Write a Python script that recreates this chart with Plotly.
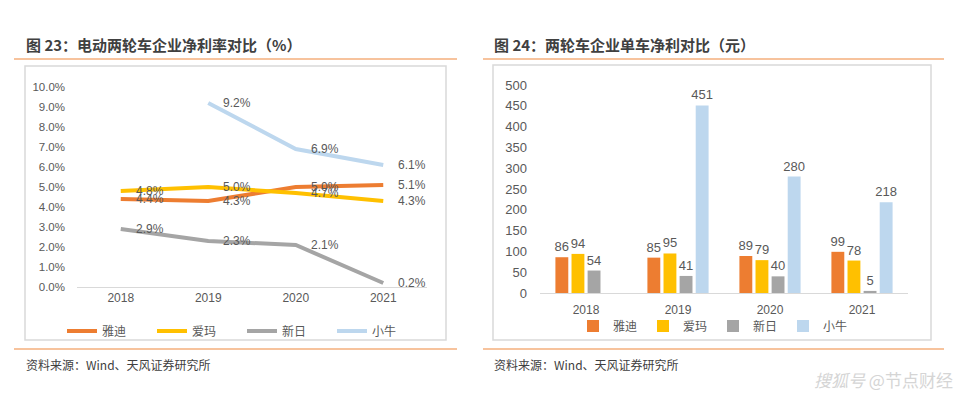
import plotly.graph_objects as go

W, H = 964, 398

years = ["2018", "2019", "2020", "2021"]
companies = ["雅迪", "爱玛", "新日", "小牛"]
colors = ["#ED7D31", "#FFC000", "#A5A5A5", "#BDD7EE"]

# 图23 净利率 (%)
margin_yadi = [4.4, 4.3, 5.0, 5.1]
margin_aima = [4.8, 5.0, 4.7, 4.3]
margin_xinri = [2.9, 2.3, 2.1, 0.2]
margin_niu = [None, 9.2, 6.9, 6.1]

# 图24 单车净利 (元)
unit_yadi = [86, 85, 89, 99]
unit_aima = [94, 95, 79, 78]
unit_xinri = [54, 41, 40, 5]
unit_niu = [None, 451, 280, 218]

margins = [margin_yadi, margin_aima, margin_xinri, margin_niu]
units = [unit_yadi, unit_aima, unit_xinri, unit_niu]
idx = list(range(len(years)))

def px(x):
    return x / W

def py(y):
    return 1 - y / H

FONT = "Liberation Sans, Noto Sans CJK SC, sans-serif"
CJK = "Noto Sans CJK SC, sans-serif"
TXT = "#595959"

fig = go.Figure()

for name, vals, c in zip(companies, margins, colors):
    fig.add_trace(go.Scatter(
        x=idx, y=vals, name=name, mode="lines",
        line=dict(color=c, width=4), connectgaps=False,
        xaxis="x", yaxis="y", legend="legend", hoverinfo="skip",
    ))
    for i, v in zip(idx, vals):
        if v is None:
            continue
        fig.add_annotation(
            x=i, y=v, xref="x", yref="y", text=f"{v:.1f}%",
            showarrow=False, xanchor="left", yanchor="middle", xshift=13,
            font=dict(family=FONT, size=12, color=TXT),
        )

for name, vals, c in zip(companies, units, colors):
    fig.add_trace(go.Bar(
        x=years, y=vals, name=name, marker=dict(color=c, line=dict(width=0)),
        text=[("" if v is None else str(v)) for v in vals],
        textposition="outside", cliponaxis=False, constraintext="none",
        textfont=dict(family=FONT, size=13, color=TXT),
        xaxis="x2", yaxis="y2", legend="legend2", hoverinfo="skip",
    ))

fig.update_layout(
    width=W, height=H, margin=dict(l=0, r=0, t=0, b=0, pad=0, autoexpand=False),
    paper_bgcolor="white", plot_bgcolor="white",
    font=dict(family=FONT, color=TXT),
    barmode="group", bargap=0.3, bargroupgap=0.2,
    showlegend=True,
    xaxis=dict(type="linear", range=[-0.5, 3.5], tickvals=idx, ticktext=years,
               domain=[px(77), px(427)], anchor="y", showgrid=False, zeroline=False,
               showline=True, linecolor="#D9D9D9", linewidth=1, ticks="",
               tickfont=dict(size=12, color=TXT), automargin=False),
    yaxis=dict(domain=[py(287), py(87)], anchor="x", range=[0, 10], dtick=1,
               tickformat=".1f", ticksuffix="%", showgrid=False, zeroline=False,
               showline=False, tickfont=dict(size=11.5, color=TXT), ticklabelstandoff=11,
               automargin=False),
    xaxis2=dict(type="category", domain=[px(540), px(908)], anchor="y2", showgrid=False,
                showline=True, linecolor="#D9D9D9", linewidth=1, ticks="",
                tickfont=dict(size=12, color=TXT), ticklabelstandoff=6, automargin=False),
    yaxis2=dict(domain=[py(293), py(85)], anchor="x2", range=[0, 500], dtick=50,
                showgrid=False, zeroline=False, showline=False,
                tickfont=dict(size=13, color=TXT), ticklabelstandoff=12, automargin=False),
    legend=dict(orientation="h", x=px(242), xanchor="center", y=py(331), yanchor="middle",
                font=dict(family=CJK, size=12, color=TXT), bgcolor="rgba(0,0,0,0)",
                itemwidth=30, tracegroupgap=0, entrywidth=45),
    legend2=dict(orientation="h", x=px(713), xanchor="center", y=py(326), yanchor="middle",
                 font=dict(family=CJK, size=12, color=TXT), bgcolor="rgba(0,0,0,0)",
                 itemwidth=30, tracegroupgap=0, entrywidth=25),
)

shapes = []
# chart boxes
shapes.append(dict(type="rect", xref="paper", yref="paper", x0=px(25), x1=px(446), y0=py(340), y1=py(66),
                   line=dict(color="#D9D9D9", width=1.5), layer="below"))
shapes.append(dict(type="rect", xref="paper", yref="paper", x0=px(493), x1=px(931), y0=py(340), y1=py(65),
                   line=dict(color="#D9D9D9", width=1.5), layer="below"))
# orange rules
for x0, x1 in [(14, 457), (483, 944)]:
    for yy in (59, 349):
        shapes.append(dict(type="line", xref="paper", yref="paper", x0=px(x0), x1=px(x1), y0=py(yy), y1=py(yy),
                           line=dict(color="#F4AF7D", width=1.5)))
fig.update_layout(shapes=shapes)

texts = [
    (px(24), py(45), "<b>图 23：电动两轮车企业净利率对比（%）</b>", 15, "#404040"),
    (px(492), py(45), "<b>图 24：两轮车企业单车净利对比（元）</b>", 15, "#404040"),
    (px(24), py(364), "资料来源：Wind、天风证券研究所", 12, "#404040"),
    (px(492), py(364), "资料来源：Wind、天风证券研究所", 12, "#404040"),
]
for x, y, t, s, c in texts:
    fig.add_annotation(x=x, y=y, xref="paper", yref="paper", text=t, showarrow=False,
                       xanchor="left", yanchor="middle", font=dict(family=CJK, size=s, color=c))

fig.add_annotation(x=px(955), y=py(379), xref="paper", yref="paper", text="<i>搜狐号</i> @节点财经",
                   showarrow=False, xanchor="right", yanchor="middle",
                   font=dict(family=CJK, size=17, color="#D5D5D5"))

fig.write_html("out.html", config={"displayModeBar": False, "staticPlot": True},
               post_script="document.body.style.margin='0';document.body.style.overflow='hidden';")
